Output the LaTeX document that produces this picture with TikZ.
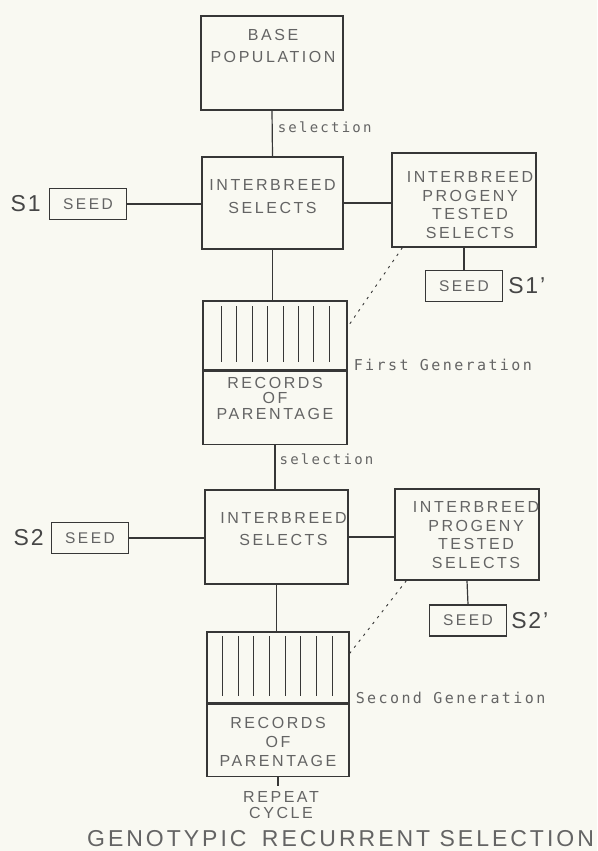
\documentclass[tikz,border=0pt]{standalone}
\usepackage{fontspec}
\usetikzlibrary{positioning}
\newfontfamily\boxfont[LetterSpace=16]{Liberation Sans}
\newfontfamily\handfont[LetterSpace=16]{DejaVu Sans Mono}
\newfontfamily\tagfont[LetterSpace=8]{Liberation Sans}
\newfontfamily\titlefont[LetterSpace=13]{Liberation Sans}
\definecolor{PA}{RGB}{249,249,242}
\definecolor{LN}{RGB}{55,55,55}
\definecolor{TX}{RGB}{100,100,100}
\definecolor{TG}{RGB}{70,70,70}

\begin{document}
\begin{tikzpicture}[
  x=1pt, y=-1pt,
  box/.style={draw=LN, line width=1.2pt, inner sep=0pt,
              minimum width=143pt, minimum height=#1},
  seedbox/.style={draw=LN, line width=1.2pt, inner sep=0pt,
              minimum width=77pt, minimum height=31pt,
              font=\boxfont\fontsize{15.5}{18}\selectfont, text=TX},
  txt/.style={font=\boxfont\fontsize{16}{#1}\selectfont, text=TX,
              align=center, inner sep=0pt, anchor=north},
  hand/.style={font=\handfont\fontsize{#1}{18}\selectfont, text=TX, inner sep=0pt},
  hand/.default=15,
  tag/.style={font=\tagfont\fontsize{23}{26}\selectfont, text=TG, inner sep=0pt},
  conn/.style={draw=LN, line width=1.2pt},
  rule/.style={draw=LN, line width=0.9pt},
  dots/.style={draw=LN, line width=0.9pt, dash pattern=on 2.5pt off 5pt}
]
\path[use as bounding box, fill=PA] (0,0) rectangle (597,851);

% first generation
\node[box=94pt, minimum width=142pt] (base) at (272,63) {};
\node[box=92pt, minimum width=141pt] (sel1) at (272.5,203) {};
\node[box=94pt, minimum width=144pt] (prog1) at (464,200) {};
\node[seedbox] (seed1)  at (88,204)  {SEED};
\node[seedbox] (seed1p) at (464,286) {SEED};
\node[box=69pt, minimum width=144pt] (grid1) at (275,335.5) {};
\node[box=73pt, minimum width=144pt, below=0pt of grid1] (recs1) {};

% second generation
\node[box=94pt] (sel2) at (276.5,537) {};
\node[box=91pt, minimum width=144pt] (prog2) at (467,534.5) {};
\node[seedbox] (seed2)  at (90,538)    {SEED};
\node[seedbox] (seed2p) at (468,620.5) {SEED};
\node[box=71pt, minimum width=142pt] (grid2) at (278,667.5) {};
\node[box=72pt, minimum width=142pt, below=0pt of grid2] (recs2) {};

% box texts
\node[txt=22pt]   (baset)  at ([xshift=1pt,yshift=-13.3pt]base.north) {BASE\\POPULATION};
\node[txt=22.5pt] (sel1t)  at ([yshift=-23pt]sel1.north) {INTERBREED\\SELECTS};
\node[txt=18.7pt] (prog1t) at ([xshift=6pt,yshift=-18.7pt]prog1.north) {INTERBREED\\PROGENY\\TESTED\\SELECTS};
\node[txt=15.3pt] (recs1t) at ([yshift=-6.7pt]recs1.north) {RECORDS\\OF\\PARENTAGE};
\node[txt=22pt]   (sel2t)  at ([xshift=7pt,yshift=-22.7pt]sel2.north) {INTERBREED\\SELECTS};
\node[txt=18.7pt] (prog2t) at ([xshift=9pt,yshift=-12.7pt]prog2.north) {INTERBREED\\PROGENY\\TESTED\\SELECTS};
\node[txt=19pt]   (recs2t) at ([yshift=-14pt]recs2.north) {RECORDS\\OF\\PARENTAGE};

% seed tags
\node[tag, left=8pt of seed1]   (s1)  {S1};
\node[tag, right=5pt of seed1p] (s1p) {S1’};
\node[tag, left=7pt of seed2]   (s2)  {S2};
\node[tag, right=4pt of seed2p] (s2p) {S2’};

\node[hand, anchor=base west] (gen1) at ([xshift=6pt]grid1.south east) {First Generation};
\node[hand, anchor=base west] (gen2) at ([xshift=6pt]grid2.south east) {Second Generation};

\node[txt=16.7pt] (again) at ([xshift=3pt,yshift=-14pt]recs2.south) {REPEAT\\CYCLE};
\coordinate (cyc) at ([yshift=-9pt]recs2.south);

\node[font=\titlefont\fontsize{23}{26}\selectfont, text=TX, inner sep=0pt, anchor=base west]
  (title) at (87,846.5) {GENOTYPIC\hspace{6pt} RECURRENT SELECTION};

% record strokes
\foreach \i in {0,...,7}
  \draw[rule] ([xshift=19pt+\i*15.4pt]grid1.north west) ++(0,6) -- ++(0,56);
\foreach \i in {0,...,7}
  \draw[rule] ([xshift=16pt+\i*15.7pt]grid2.north west) ++(0,5) -- ++(0,60);

% connectors
\draw[conn] (base.south) -- (sel1.north) node[hand=14, pos=0.36, right=5pt] {selection};
\draw[conn] (seed1.east) -- (seed1.east -| sel1.west);
\draw[conn] (sel1.east) -- (sel1.east -| prog1.west);
\draw[conn] (prog1.south) -- (seed1p.north);
\draw[conn] (sel1.south) -- (sel1.south |- grid1.north);
\draw[dots] ([xshift=11pt]prog1.south west) -- ([yshift=8.5pt]grid1.east);

\draw[conn] (recs1.south) -- (recs1.south |- sel2.north) node[hand=14, pos=0.32, right=4pt] {selection};
\draw[conn] (seed2.east) -- (seed2.east -| sel2.west);
\draw[conn] (sel2.east) -- (sel2.east -| prog2.west);
\draw[conn] (prog2.south) -- (seed2p.north);
\draw[conn] (sel2.south) -- (sel2.south |- grid2.north);
\draw[dots] ([xshift=12pt]prog2.south west) -- ([yshift=14pt]grid2.east);
\draw[conn] (recs2.south) -- (cyc);
\end{tikzpicture}
\end{document}
